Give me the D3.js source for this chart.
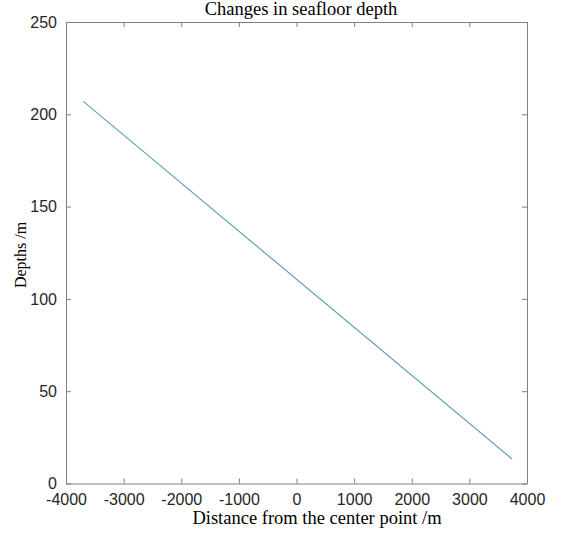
<!DOCTYPE html>
<html>
<head>
<meta charset="utf-8">
<script src="https://cdn.jsdelivr.net/npm/d3@7"></script>
<style>
	body {margin: 0; background: #fff;}
	.tick text {font-family: "Liberation Sans", Arial, sans-serif; font-size: 16px; fill: #262626;}
	.lbl {font-family: "Liberation Serif", "Times New Roman", serif; font-size: 18.5px; fill: #000;}
</style>
</head>
<body>
<svg width="569" height="533"></svg>
<script>
'use strict';
// data
let aDist = [-3700, 3740]
let aDepth = [207, 13.3]
let aXTicks = [-4000, -3000, -2000, -1000, 0, 1000, 2000, 3000, 4000]
let aYTicks = [0, 50, 100, 150, 200, 250]

let eSvg = d3.select("svg")
let m = {left: 66, right: 527, top: 22, bottom: 483.5}

let sX = d3.scaleLinear().domain([-4000, 4000]).range([m.left, m.right])
let sY = d3.scaleLinear().domain([0, 250]).range([m.bottom, m.top])

let cAxis = "#808080"
let fmt = d => String(d)  // plain hyphen, like the original

function styleAxis(g) {
	g.selectAll(".domain").attr("stroke", cAxis)
	g.selectAll(".tick line").attr("stroke", cAxis)}

// bottom + top
eSvg.append("g").attr("transform", `translate(0,${m.bottom})`)
	.call(d3.axisBottom(sX).tickValues(aXTicks).tickSizeInner(-5).tickSizeOuter(0).tickPadding(10).tickFormat(fmt))
	.call(styleAxis)
eSvg.append("g").attr("transform", `translate(0,${m.top})`)
	.call(d3.axisTop(sX).tickValues(aXTicks).tickSizeInner(-5).tickSizeOuter(0).tickFormat(""))
	.call(styleAxis)

// left + right
eSvg.append("g").attr("transform", `translate(${m.left},0)`)
	.call(d3.axisLeft(sY).tickValues(aYTicks).tickSizeInner(-5).tickSizeOuter(0).tickPadding(9).tickFormat(fmt))
	.call(styleAxis)
eSvg.append("g").attr("transform", `translate(${m.right},0)`)
	.call(d3.axisRight(sY).tickValues(aYTicks).tickSizeInner(-5).tickSizeOuter(0).tickFormat(""))
	.call(styleAxis)

// line
let tData = aDist.map((d, i) => ({x: d, y: aDepth[i]}))
eSvg.append("path")
	.datum(tData)
	.attr("fill", "none")
	.attr("stroke", "#5f9fb4")
	.attr("stroke-width", 1.2)
	.attr("d", d3.line().x(d => sX(d.x)).y(d => sY(d.y)))

// labels (the original sits them a little right of the axes' middle)
eSvg.append("text").attr("class", "lbl")
	.attr("x", 301).attr("y", 14.5)
	.attr("text-anchor", "middle")
	.text("Changes in seafloor depth")
eSvg.append("text").attr("class", "lbl")
	.attr("x", 317).attr("y", 524)
	.attr("text-anchor", "middle")
	.text("Distance from the center point /m")
eSvg.append("text").attr("class", "lbl")
	.style("font-size", "16px")
	.attr("transform", "translate(26,255) rotate(-90)")
	.attr("text-anchor", "middle")
	.text("Depths /m")
</script>
</body>
</html>
